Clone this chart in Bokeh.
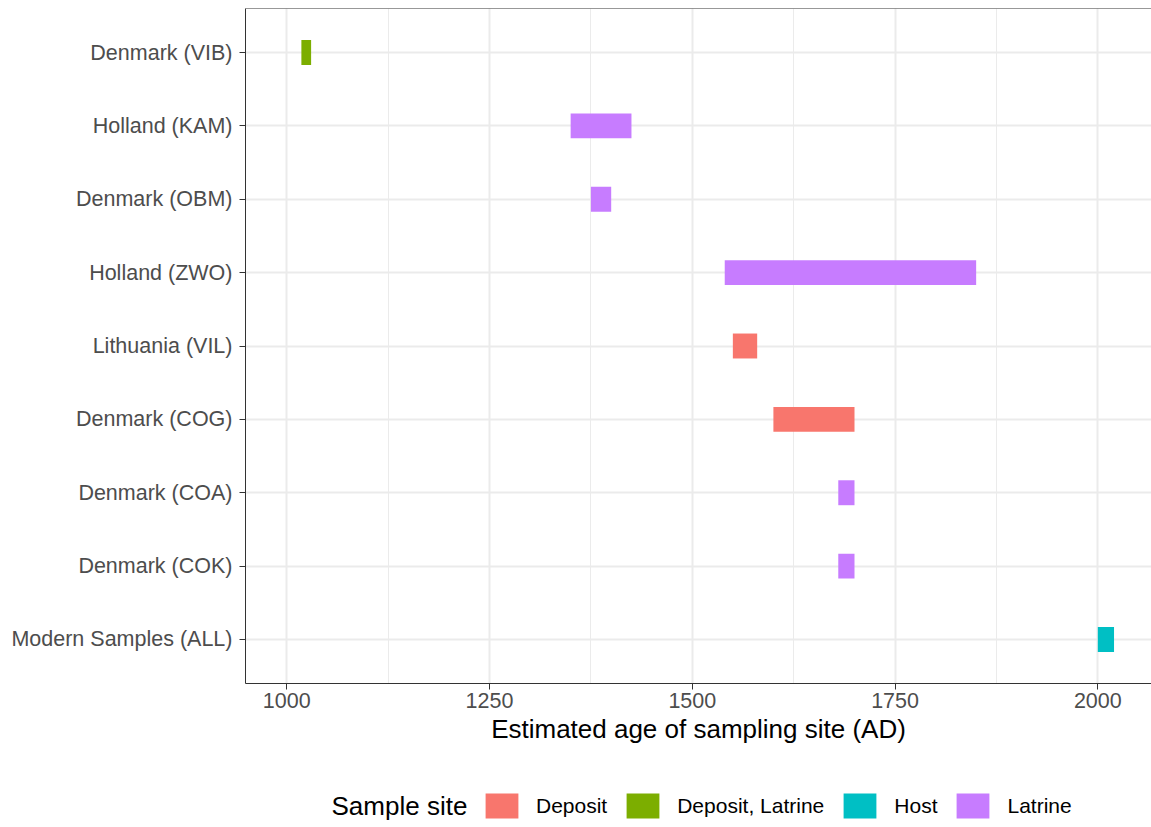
from bokeh.plotting import figure
from bokeh.layouts import column
from bokeh.models import (FactorRange, Range1d, SingleIntervalTicker, Legend,
                          LegendItem, Span, ColumnDataSource, Label)
from bokeh.embed import file_html
from bokeh.resources import INLINE

# ---- data ----
sites = ["Denmark (VIB)", "Holland (KAM)", "Denmark (OBM)", "Holland (ZWO)",
         "Lithuania (VIL)", "Denmark (COG)", "Denmark (COA)", "Denmark (COK)",
         "Modern Samples (ALL)"]
start_years = [1018, 1350, 1375, 1540, 1550, 1600, 1680, 1680, 2000]
end_years = [1030, 1425, 1400, 1850, 1580, 1700, 1700, 1700, 2020]
site_types = ["Deposit, Latrine", "Latrine", "Latrine", "Latrine", "Deposit",
              "Deposit", "Latrine", "Latrine", "Host"]
type_names = ["Deposit", "Deposit, Latrine", "Host", "Latrine"]
type_colors = ["#F8766D", "#7CAE00", "#00BFC4", "#C77CFF"]
x_tick_interval = 250

FONT = "Liberation Sans"
BORDER = "#333333"
GRID = "#EBEBEB"
NAN = float("nan")

y_range = FactorRange(factors=list(reversed(sites)), range_padding=0.1,
                      range_padding_units="absolute")
p = figure(width=1151, height=760, y_range=y_range,
           x_range=Range1d(949.1, 2066.2),
           output_backend="svg", toolbar_location=None,
           min_border_left=245, min_border_right=0, min_border_top=8,
           min_border_bottom=77)
p.outline_line_color = None
p.background_fill_color = "white"
p.border_fill_color = "white"

for t, c in zip(type_names, type_colors):
    idx = [i for i, s in enumerate(site_types) if s == t]
    src = ColumnDataSource(dict(
        y=[sites[i] for i in idx],
        left=[start_years[i] for i in idx],
        right=[end_years[i] for i in idx]))
    p.hbar(y="y", left="left", right="right", height=0.34,
           fill_color=c, line_color=None, source=src)

# top border of panel
p.add_layout(Span(location=9.1, dimension="width", line_color=BORDER,
                  line_width=1))

# x axis
p.xaxis.ticker = SingleIntervalTicker(interval=x_tick_interval, num_minor_ticks=2)
p.xaxis.axis_label = "Estimated age of sampling site (AD)"
p.xaxis.axis_label_text_font = FONT
p.xaxis.axis_label_text_font_size = "26px"
p.xaxis.axis_label_text_font_style = "normal"
p.xaxis.axis_label_text_color = "black"
p.xaxis.axis_label_standoff = 3
p.xaxis.major_label_text_font = FONT
p.xaxis.major_label_text_font_size = "21.5px"
p.xaxis.major_label_text_color = "#4D4D4D"
p.xaxis.major_label_standoff = 3
p.xaxis.major_tick_out = 6
p.xaxis.major_tick_in = 0
p.xaxis.minor_tick_line_color = None
p.xaxis.major_tick_line_color = BORDER
p.xaxis.axis_line_color = BORDER

# y axis
p.yaxis.major_label_text_font = FONT
p.yaxis.major_label_text_font_size = "21.5px"
p.yaxis.major_label_text_color = "#4D4D4D"
p.yaxis.major_label_standoff = 7
p.yaxis.major_tick_out = 6
p.yaxis.major_tick_in = 0
p.yaxis.major_tick_line_color = BORDER
p.yaxis.axis_line_color = BORDER

# grids
p.xgrid.grid_line_color = GRID
p.xgrid.grid_line_width = 2
p.xgrid.minor_grid_line_color = GRID
p.xgrid.minor_grid_line_width = 1
p.ygrid.grid_line_color = GRID
p.ygrid.grid_line_width = 2

# ---- legend strip below (frame is aligned with the main frame: 245..1151) ----
lg = figure(width=1151, height=67, x_range=Range1d(245, 1151),
            y_range=Range1d(0, 67), output_backend="svg",
            toolbar_location=None, x_axis_location=None,
            y_axis_location=None, min_border=0)
lg.outline_line_color = None
lg.grid.visible = False
lg.border_fill_color = "white"

items = []
for t, c in zip(type_names, type_colors):
    # off-canvas proxy glyph, used only for the legend key
    r = lg.hbar(y=[NAN], left=[NAN], right=[NAN], height=1, fill_color=c,
                line_color=None)
    items.append(LegendItem(label=t, renderers=[r]))

legend = Legend(items=items, orientation="horizontal", location=(236, 6))
legend.border_line_color = None
legend.background_fill_alpha = 0
legend.label_text_font = FONT
legend.label_text_font_size = "21px"
legend.label_text_color = "black"
legend.glyph_width = 41
legend.glyph_height = 31
legend.label_standoff = 14
legend.spacing = 15
legend.padding = 0
legend.margin = 0
lg.add_layout(legend, "center")

lg.add_layout(Label(x=331, y=22, text="Sample site",
                    text_font=FONT, text_font_size="26px", text_color="black",
                    text_align="left", text_baseline="middle"))

layout = column(p, lg, spacing=0)
open("out.html", "w").write(file_html(layout, INLINE))
